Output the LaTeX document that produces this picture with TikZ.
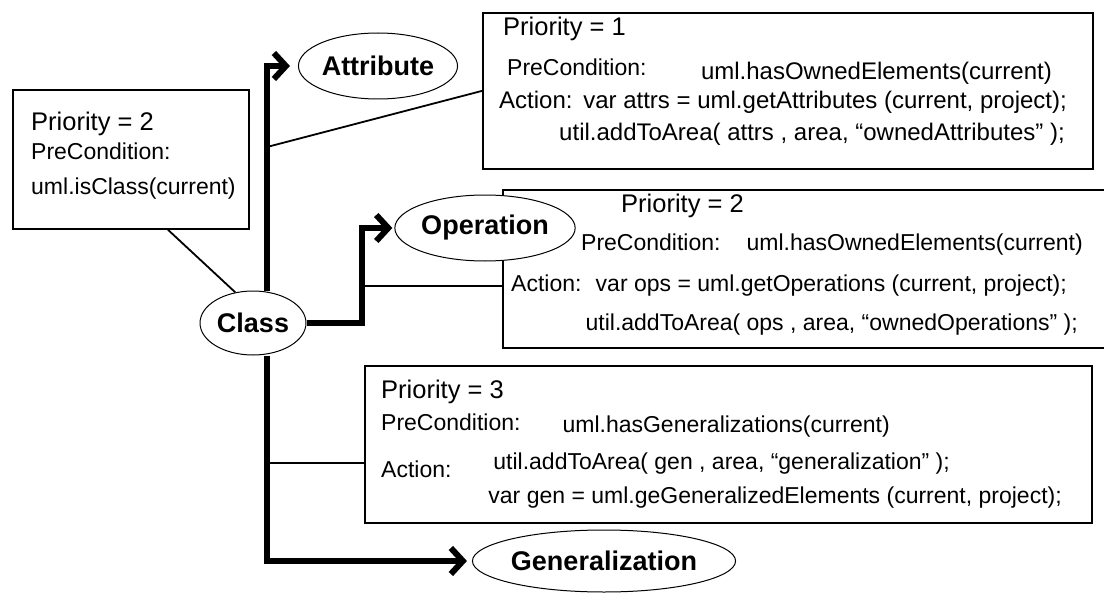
\documentclass[tikz,border=0pt]{standalone}
\usepackage{fontspec}
\setmainfont{Liberation Sans}
\usetikzlibrary{arrows.meta,shapes.geometric,backgrounds}
\begin{document}
\begin{tikzpicture}[x=1pt,y=-1pt,
  box/.style={draw, line width=1.8pt, rectangle, inner sep=0pt, anchor=north west},
  concept/.style={draw, ellipse, fill=white, line width=1pt, inner sep=0pt,
                  font=\fontsize{27}{30}\selectfont\bfseries},
  prio/.style={inner sep=0pt, font=\fontsize{25.5}{30}\selectfont},
  code/.style={inner sep=0pt, font=\fontsize{23}{27}\selectfont},
  bigcode/.style={inner sep=0pt, font=\fontsize{24}{28}\selectfont},
  heavy/.style={line width=6pt, -{Straight Barb[length=12pt,width=26pt]}},
  link/.style={line width=1.8pt}]
\useasboundingbox (0,0) rectangle (1104,594);

% rule boxes
\node[box, minimum width=236pt, minimum height=139pt] (lb) at (12,89) {};
\node[box, minimum width=610pt, minimum height=156pt] (b1) at (482,12) {};
\node[box, minimum width=612pt, minimum height=158pt] (b2) at (502,189) {};
\node[box, minimum width=727pt, minimum height=157pt] (b3) at (364,365) {};

% concepts
\node[concept, minimum width=129pt, minimum height=66pt] (attr) at (378,66) {Attribute\hspace{8pt}};
\node[concept, minimum width=106pt, minimum height=64pt] (cls) at (253,323) {Class};
\node[concept, minimum width=162pt, minimum height=66pt] (op) at (485,228) {Operation\hspace{6pt}};
\node[concept, minimum width=232pt, minimum height=62pt] (gen) at (604,561) {Generalization};

% class rule
\node[prio, anchor=base west] (lbt1) at (31,130) {Priority = 2};
\node[code, anchor=base west] (lbt2) at (31,159) {PreCondition:};
\node[code, anchor=base west] (lbt3) at (31,194) {uml.isClass(current)};

% attribute rule
\node[prio, anchor=base west] (b1t1) at (503,36) {Priority = 1};
\node[code, anchor=base west] (b1t2) at (507,76) {PreCondition:};
\node[bigcode, anchor=base east] (b1t3) at (1052,80) {uml.hasOwnedElements(current)};
\node[bigcode, anchor=base west] (b1t4) at (499,108) {Action:};
\node[bigcode, anchor=base east] (b1t5) at (1067,108) {var attrs = uml.getAttributes (current, project);};
\node[bigcode, anchor=base east] (b1t6) at (1065,140) {util.addToArea( attrs , area, “ownedAttributes” );};

% operation rule
\node[prio, anchor=base west] (b2t1) at (621,212) {Priority = 2};
\node[code, anchor=base west] (b2t2) at (581,250) {PreCondition:};
\node[code, anchor=base east] (b2t3) at (1083,250) {uml.hasOwnedElements(current)};
\node[code, anchor=base west] (b2t4) at (511,291) {Action:};
\node[code, anchor=base east] (b2t5) at (1067,291) {var ops = uml.getOperations (current, project);};
\node[code, anchor=base east] (b2t6) at (1078,330) {util.addToArea( ops , area, “ownedOperations” );};

% generalization rule
\node[prio, anchor=base west] (b3t1) at (381,398) {Priority = 3};
\node[code, anchor=base west] (b3t2) at (381,430) {PreCondition:};
\node[code, anchor=base east] (b3t3) at (890,432) {uml.hasGeneralizations(current)};
\node[code, anchor=base west] (b3t4) at (381,477) {Action:};
\node[code, anchor=base east] (b3t5) at (950,469) {util.addToArea( gen , area, “generalization” );};
\node[code, anchor=base east] (b3t6) at (1062,503) {var gen = uml.geGeneralizedElements (current, project);};

% junction points on the branches
\coordinate (tx) at (267,0);
\coordinate (tA) at (267,147);
\coordinate (tB) at (362,286);
\coordinate (tC) at (267,463);

\begin{scope}[on background layer]
  \draw[heavy, shorten >=8pt] (cls.north -| tx) |- (attr.west);
  \draw[heavy, shorten >=2pt] (cls.east) -| (tB) |- (op.west);
  \draw[heavy, shorten >=5pt] (cls.south -| tx) |- (gen.west);
  \draw[link] (tA) -- (b1.west);
  \draw[link] (tB) -- (tB -| b2.west);
  \draw[link] (tC) -- (tC -| b3.west);
  \draw[link] ([xshift=156pt]lb.south west) -- (cls.120);
\end{scope}
\end{tikzpicture}
\end{document}
